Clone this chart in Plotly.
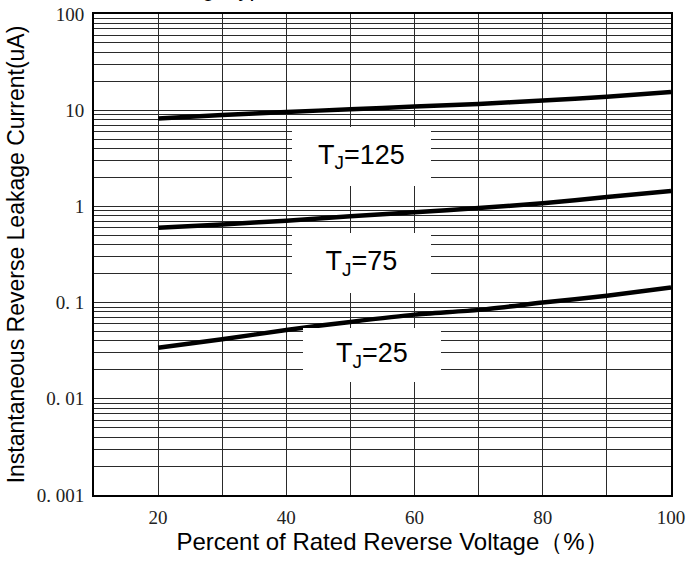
import plotly.graph_objects as go

# Data
voltage_pct = [20, 30, 40, 50, 60, 70, 80, 90, 100]
ir_tj125 = [8.2, 8.9, 9.6, 10.2, 10.9, 11.6, 12.6, 13.8, 15.5]
ir_tj75 = [0.60, 0.65, 0.71, 0.79, 0.87, 0.96, 1.08, 1.25, 1.45]
ir_tj25 = [0.034, 0.0415, 0.052, 0.063, 0.075, 0.084, 0.10, 0.118, 0.144]

series_labels = ["T<sub>J</sub>=125", "T<sub>J</sub>=75", "T<sub>J</sub>=25"]
x_tick_vals = [10, 20, 30, 40, 50, 60, 70, 80, 90, 100]
x_tick_text = ["", "20", "", "40", "", "60", "", "80", "", "100"]
decades = [0.001, 0.01, 0.1, 1, 10, 100]
decade_text = ["0. 001", "0. 01", "0. 1", "1", "10", "100"]

y_tick_vals = []
y_tick_text = []
for d, t in zip(decades, decade_text):
    y_tick_vals.append(d)
    y_tick_text.append(t)
    if d < 100:
        for m in range(2, 10):
            y_tick_vals.append(round(d * m, 6))
            y_tick_text.append("")

fig = go.Figure()
for ys in [ir_tj125, ir_tj75, ir_tj25]:
    fig.add_trace(go.Scatter(
        x=voltage_pct, y=ys, mode="lines",
        line=dict(color="black", width=4.5, shape="spline", smoothing=0.6),
        showlegend=False, hoverinfo="skip"))

grid_col = "#2a2a2a"
tick_font = dict(family="Liberation Serif", size=19, color="#222")
fig.update_xaxes(
    range=[10, 100], tickvals=x_tick_vals, ticktext=x_tick_text,
    showgrid=True, gridcolor=grid_col, gridwidth=1,
    showline=True, linecolor="black", linewidth=2, mirror=True,
    ticks="", ticklabelstandoff=4, zeroline=False, automargin=False,
    ticklabeloverflow="allow", tickfont=tick_font,
    title=dict(text="&nbsp;&nbsp;&nbsp;Percent of Rated Reverse Voltage（%）",
               font=dict(family="Liberation Sans, Arial", size=24, color="black"),
               standoff=2),
)
fig.update_yaxes(
    type="log", range=[-3, 2], tickvals=y_tick_vals, ticktext=y_tick_text,
    showgrid=True, gridcolor=grid_col, gridwidth=1,
    showline=True, linecolor="black", linewidth=2, mirror=True,
    ticks="", ticklabelstandoff=4, zeroline=False, automargin=False,
    ticklabeloverflow="allow", tickfont=tick_font,
    title=dict(text="Instantaneous Reverse Leakage Current(uA)",
               font=dict(family="Liberation Sans, Arial", size=23, color="black"),
               standoff=6),
)

# label boxes (white background hiding grid), positions in axis coords (log10 for y)
label_pos = [(51.7, 0.519, 139, 59), (51.7, -0.588, 139, 60), (53.4, -1.545, 138, 54)]
for lab, (lx, ly, w, h) in zip(series_labels, label_pos):
    fig.add_annotation(
        x=lx, y=ly, xref="x", yref="y", text=lab, showarrow=False,
        bgcolor="white", width=w, height=h, borderpad=0, borderwidth=0,
        font=dict(family="Liberation Sans, Arial", size=27, color="black"))

# clipped title fragment at top of image
fig.add_annotation(
    x=0, y=1, xref="paper", yref="paper", xanchor="left", yanchor="bottom",
    xshift=88, yshift=11, text="Fig. Typical Reverse Characteristics", showarrow=False,
    font=dict(family="Liberation Sans, Arial", size=22, color="black"))

fig.update_layout(
    width=687, height=561,
    margin=dict(l=94, r=16, t=14, b=66, autoexpand=False),
    paper_bgcolor="white", plot_bgcolor="white",
)

fig.write_html("out.html", config={"displayModeBar": False},
               post_script="document.body.style.margin='0';document.body.style.padding='0';")
